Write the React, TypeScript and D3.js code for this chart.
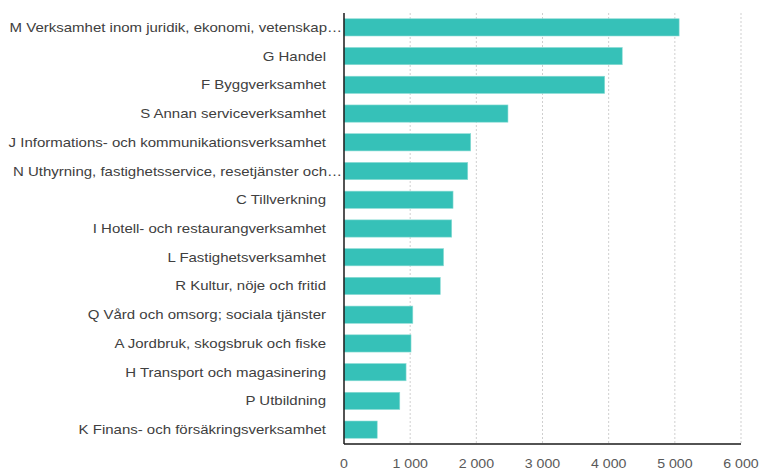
import * as d3 from 'd3';

import React, { useEffect, useRef } from 'react';

const categories = [
  'M Verksamhet inom juridik, ekonomi, vetenskap…',
  'G Handel',
  'F Byggverksamhet',
  'S Annan serviceverksamhet',
  'J Informations- och kommunikationsverksamhet',
  'N Uthyrning, fastighetsservice, resetjänster och…',
  'C Tillverkning',
  'I Hotell- och restaurangverksamhet',
  'L Fastighetsverksamhet',
  'R Kultur, nöje och fritid',
  'Q Vård och omsorg; sociala tjänster',
  'A Jordbruk, skogsbruk och fiske',
  'H Transport och magasinering',
  'P Utbildning',
  'K Finans- och försäkringsverksamhet',
];

const values = [5065, 4205, 3940, 2478, 1915, 1870, 1648, 1628, 1505, 1455, 1040, 1013, 938, 843, 502];

const tickValues = [0, 1000, 2000, 3000, 4000, 5000, 6000];

const width = 759;
const height = 472;
const margin = { top: 13, right: 18, bottom: 28, left: 344 };

export default function App() {
  const ref = useRef<SVGSVGElement>(null);

  useEffect(() => {
    const svg = d3.select(ref.current);
    svg.selectAll('*').remove();

    const x = d3
      .scaleLinear()
      .domain([0, 6000])
      .range([margin.left, width - margin.right]);

    const y = d3
      .scaleBand<string>()
      .domain(categories)
      .range([margin.top, height - margin.bottom])
      .paddingInner(0.4)
      .paddingOuter(0.2);

    const fmt = (d: number) => d3.format(',')(d).replace(/,/g, ' ');

    // dashed grid
    svg
      .append('g')
      .selectAll('line')
      .data(tickValues.slice(1))
      .join('line')
      .attr('x1', (d) => x(d))
      .attr('x2', (d) => x(d))
      .attr('y1', margin.top)
      .attr('y2', height - margin.bottom)
      .attr('stroke', '#cfcfcf')
      .attr('stroke-width', 1)
      .attr('stroke-dasharray', '2,2');

    svg
      .append('g')
      .selectAll('rect')
      .data(values)
      .join('rect')
      .attr('x', x(0))
      .attr('y', (d, i) => y(categories[i])!)
      .attr('width', (d) => x(d) - x(0))
      .attr('height', y.bandwidth())
      .attr('fill', '#36c1b8')
      .attr('stroke', '#8ddcd5')
      .attr('stroke-width', 0.6);

    // axes lines
    svg
      .append('line')
      .attr('x1', x(0))
      .attr('x2', x(0))
      .attr('y1', margin.top)
      .attr('y2', height - margin.bottom)
      .attr('stroke', '#1a1a1a')
      .attr('stroke-width', 1.5);

    svg
      .append('line')
      .attr('x1', x(0))
      .attr('x2', x(6000))
      .attr('y1', height - margin.bottom)
      .attr('y2', height - margin.bottom)
      .attr('stroke', '#1a1a1a')
      .attr('stroke-width', 1.5);

    // category labels
    svg
      .append('g')
      .attr('font-family', '"Liberation Sans", Arial, sans-serif')
      .attr('font-size', 12.5)
      .attr('fill', '#404040')
      .attr('text-anchor', 'end')
      .selectAll('text')
      .data(categories)
      .join('text')
      .attr('transform', (d) => {
        const tx = d.endsWith('…') ? x(0) - 2 : x(0) - 18;
        const ty = y(d)! + y.bandwidth() / 2 + 4.5;
        return `translate(${tx},${ty}) scale(1.2,1)`;
      })
      .text((d) => d);

    // tick labels
    svg
      .append('g')
      .attr('font-family', '"Liberation Sans", Arial, sans-serif')
      .attr('font-size', 12)
      .attr('fill', '#595959')
      .attr('text-anchor', 'middle')
      .selectAll('text')
      .data(tickValues)
      .join('text')
      .attr('transform', (d) => `translate(${x(d)},${height - 4}) scale(1.18,1)`)
      .text((d) => fmt(d));
  }, []);

  return (
    <svg
      ref={ref}
      width={width}
      height={height}
      style={{ position: 'absolute', left: 0, top: 0, background: '#fff' }}
    ></svg>
  );
}
